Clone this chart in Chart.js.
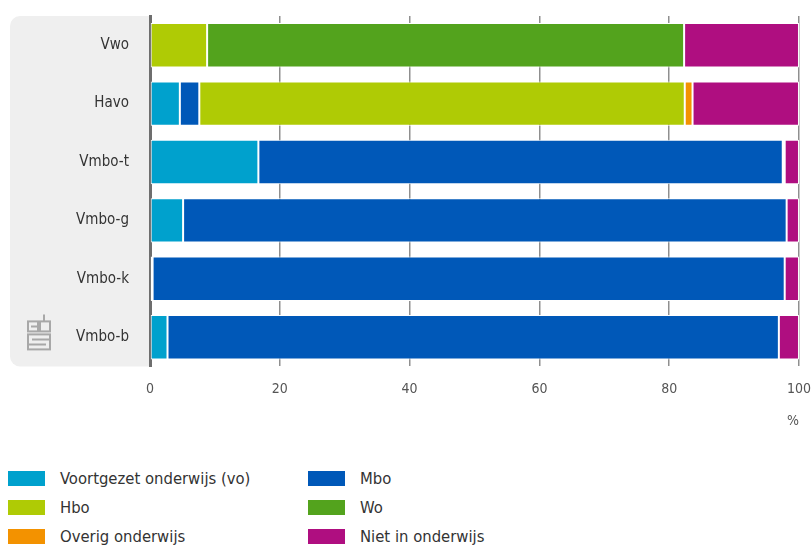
<!DOCTYPE html>
<html lang="nl">
<head>
<meta charset="utf-8">
<title>Onderwijs na diploma</title>
<script src="https://cdn.jsdelivr.net/npm/chart.js@4.4.1/dist/chart.umd.min.js"></script>
<style>
  html, body { margin: 0; padding: 0; background: #fff; }
  #wrap { position: relative; width: 811px; height: 548px; overflow: hidden; }
  #chartBox { position: absolute; left: 0; top: -14px; width: 826px; height: 458px; }
  #legend {
    position: absolute; left: 8px; top: 470px;
    display: grid; grid-template-columns: 300px 300px; row-gap: 12px;
    font-family: 'DejaVu Sans Condensed', 'Liberation Sans Narrow', sans-serif;
    font-size: 16.5px; color: #333;
  }
  .item { display: flex; align-items: center; height: 17px; }
  .swatch { width: 37px; height: 15px; margin-right: 15px; }
</style>
</head>
<body>
<div id="wrap">
  <div id="chartBox"><canvas id="chart"></canvas></div>
  <div id="legend"></div>
</div>
<script>
'use strict';

// ── data (percentages per school type) ──
const categories = ['Vwo', 'Havo', 'Vmbo-t', 'Vmbo-g', 'Vmbo-k', 'Vmbo-b'];
const seriesNames = ['Voortgezet onderwijs (vo)', 'Mbo', 'Hbo', 'Wo', 'Overig onderwijs', 'Niet in onderwijs'];
const vo     = [0,    4.6, 16.7,  5.1,  0.4,  2.7];
const mbo    = [0,    3.0, 80.8, 93.0, 97.4, 94.2];
const hbo    = [8.8, 74.8,  0,    0,    0,    0];
const wo     = [73.5,  0,   0,    0,    0,    0];
const overig = [0,    1.2,  0.3,  0,    0,    0];
const niet   = [17.7, 16.4, 2.2,  1.9,  2.2,  3.1];
const xTicks = [0, 20, 40, 60, 80, 100];

const colors = ['#00a1cd', '#0058b8', '#afcb05', '#53a31d', '#f39200', '#af0e80'];
const FONT = "'DejaVu Sans Condensed', 'Liberation Sans Narrow', sans-serif";

// grey label panel + cbs logo behind the y labels
const panelPlugin = {
  id: 'panel',
  beforeDraw(chart) {
    const { ctx, chartArea } = chart;
    const x0 = 10, y0 = chartArea.top, x1 = chartArea.left, y1 = chartArea.bottom, r = 10;
    ctx.save();
    ctx.fillStyle = '#efefef';
    ctx.beginPath();
    ctx.moveTo(x1, y0);
    ctx.lineTo(x0 + r, y0);
    ctx.arcTo(x0, y0, x0, y0 + r, r);
    ctx.lineTo(x0, y1 - r);
    ctx.arcTo(x0, y1, x0 + r, y1, r);
    ctx.lineTo(x1, y1);
    ctx.closePath();
    ctx.fill();

    // simplified cbs logo, placed relative to the bottom of the panel
    const lx = 28, ly = y1 - 52;
    ctx.strokeStyle = '#a8a8a8';
    ctx.lineWidth = 2;
    ctx.strokeRect(lx, ly + 7, 10, 10);
    ctx.strokeRect(lx + 12, ly + 7, 10, 10);
    ctx.beginPath();
    ctx.moveTo(lx + 16, ly); ctx.lineTo(lx + 16, ly + 7);
    ctx.moveTo(lx + 10, ly + 12); ctx.lineTo(lx + 3, ly + 12);
    ctx.stroke();
    ctx.strokeRect(lx, ly + 20, 22, 15);
    ctx.beginPath();
    ctx.moveTo(lx + 4, ly + 25); ctx.lineTo(lx + 22, ly + 25);
    ctx.moveTo(lx, ly + 30); ctx.lineTo(lx + 18, ly + 30);
    ctx.stroke();
    ctx.restore();
  }
};

const seriesData = [vo, mbo, hbo, wo, overig, niet];

const chart = new Chart(document.getElementById('chart'), {
  type: 'bar',
  data: {
    labels: categories,
    datasets: seriesData.map((d, i) => ({
      label: seriesNames[i],
      data: d,
      backgroundColor: colors[i],
      borderColor: '#ffffff',
      borderWidth: 1,
      borderSkipped: false,
      categoryPercentage: 1,
      barPercentage: 0.76,
    })),
  },
  options: {
    indexAxis: 'y',
    responsive: true,
    maintainAspectRatio: false,
    animation: false,
    layout: { padding: { left: 10, right: 12, top: 2, bottom: 0 } },
    plugins: {
      legend: { display: false },
      tooltip: { enabled: false },
    },
    scales: {
      x: {
        stacked: true,
        min: 0, max: 100,
        afterBuildTicks: (scale) => { scale.ticks = xTicks.map(v => ({ value: v })); },
        grid: { color: '#8f8f8f', lineWidth: 1.5, drawTicks: false },
        border: { display: false },
        ticks: { color: '#555', font: { family: FONT, size: 14 }, padding: 15 },
        title: {
          display: true, text: '%', align: 'end', color: '#555',
          font: { family: FONT, size: 14 }, padding: { top: 0, bottom: 14 },
        },
      },
      y: {
        stacked: true,
        afterFit: (scale) => { scale.width = 140; },
        grid: { display: false, drawTicks: false },
        border: { color: '#6e6e6e', width: 3 },
        ticks: { color: '#333', font: { family: FONT, size: 15 }, padding: 21 },
      },
    },
  },
  plugins: [panelPlugin],
});

// legend in two columns, built from the datasets
(function buildLegend() {
  const box = document.getElementById('legend');
  chart.data.datasets.forEach(ds => {
    const item = document.createElement('div');
    item.className = 'item';
    const sw = document.createElement('span');
    sw.className = 'swatch';
    sw.style.background = ds.backgroundColor;
    const txt = document.createElement('span');
    txt.textContent = ds.label;
    item.appendChild(sw);
    item.appendChild(txt);
    box.appendChild(item);
  });
})();
</script>
</body>
</html>
